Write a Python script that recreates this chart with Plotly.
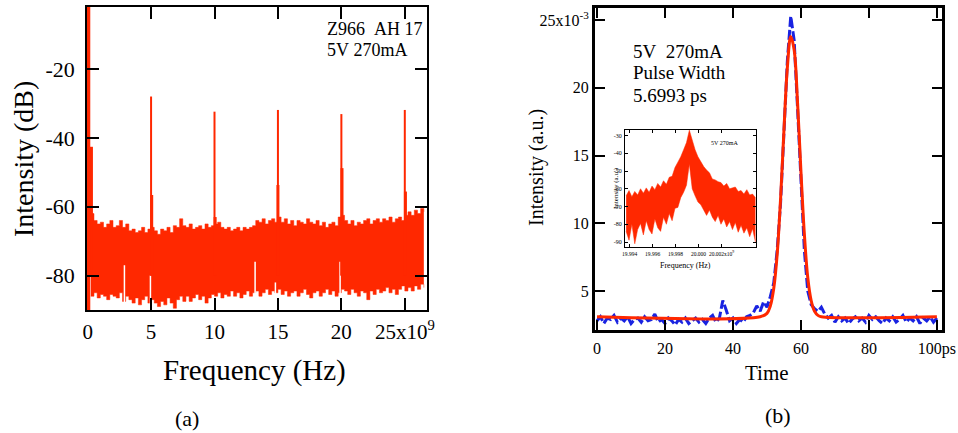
import numpy as np
import plotly.graph_objects as go

# ---------------- Panel (a): RF spectrum ----------------
freq_step_ghz = 0.25
noise_freq = np.round(np.arange(1, 107) * freq_step_ghz, 2)  # GHz sample grid
noise_upper = [
    -62, -64, -65, -64.5, -66, -65, -64, -66, -65.5, -64,
    -66, -65, -67, -66.5, -67.5, -67, -66, -67.5, -66.5, -66,
    -67, -68, -66.5, -67, -66, -67.5, -65.5, -66, -63.5, -65.5,
    -66, -65, -66.5, -66, -65.5, -66.5, -65, -66, -65.5, -65,
    -64.5, -66, -66.5, -66, -67, -66.5, -66, -67, -66, -66.5,
    -66, -65.5, -64, -64.5, -63.5, -65, -64, -63.5, -64.5, -63,
    -64.5, -63.5, -65, -64, -65.5, -64, -64.5, -65, -63.5, -64.5,
    -65, -64, -65.5, -64.5, -66, -65, -64.5, -65.5, -63, -62.5,
    -64, -65, -64, -65.5, -64.5, -65, -64, -63.5, -65, -64,
    -63.5, -64.5, -63.5, -64, -63, -64.5, -63.5, -63, -64, -62.5,
    -61.5, -62.5, -61, -62, -60.5, -61.5]
noise_lower = [
    -86, -85, -86.5, -85.5, -86, -87, -85.5, -86, -86.5, -85,
    -87.5, -86, -87, -88, -86.5, -88.5, -87, -86, -88, -87,
    -88, -89, -87.5, -88.5, -86.5, -88, -89.5, -87, -86, -87.5,
    -86, -87.5, -86.5, -85.5, -87, -86, -88, -86.5, -85.5, -86,
    -85, -86.5, -85.5, -86, -84.5, -86, -85, -86.5, -85.5, -84.5,
    -86, -85, -84.5, -86, -85, -84, -85.5, -84.5, -85, -84,
    -85.5, -84.5, -86, -85, -84.5, -86, -85, -84, -85.5, -86.5,
    -85, -84.5, -86, -85, -84, -85.5, -84.5, -86, -85, -84,
    -84.5, -85.5, -84, -85, -86, -84.5, -85, -87, -84.5, -85.5,
    -84, -85, -84.5, -83.5, -85, -84, -85.5, -84, -83, -84.5,
    -83.5, -84.5, -83, -84, -82.5, -83.5]

spike_freq = [5.0, 10.0, 15.0, 20.0, 25.0]
spike_peak = [-28.0, -32.4, -31.9, -33.1, -31.9]
shoulder_freq = [0.3, 5.05, 10.05, 15.0, 20.05, 25.05]
shoulder_peak = [-42.6, -56.6, -63.0, -53.7, -48.8, -55.6]
dc_freq = [0.07]
dc_peak = [-2.0]
gap_freq = [2.9, 4.95, 13.2, 14.8, 19.9]
gap_top = [-77, -80, -76, -82, -76]

a_xticks = [0, 5, 10, 15, 20, 25]
a_xticktext = ["0", "5", "10", "15", "20", "25x10<sup>9</sup>"]
a_yticks = [-20, -40, -60, -80]
a_yticktext = ["-20", "-40", "-60", "-80"]

# ---------------- Panel (b): autocorrelation pulse ----------------
time_ps = list(range(0, 101))
meas = [
    2.8, 3.1, 2.6, 3.0, 2.9, 3.2, 2.7, 3.0, 2.8, 3.1,
    2.6, 2.9, 3.0, 2.7, 3.1, 2.8, 2.9, 3.3, 2.7, 2.9,
    2.6, 3.0, 2.8, 2.5, 2.9, 2.7, 3.0, 2.6, 2.8, 3.0,
    2.7, 2.9, 2.6, 3.0, 3.2, 2.7, 3.0, 4.3, 3.6, 2.8,
    3.0, 2.6, 2.9, 2.7, 3.1, 3.2, 3.4, 3.9, 3.5, 4.2,
    3.8, 4.6, 5.6, 8.0, 11.5, 16.5, 22.0, 25.3, 23.5, 18.5,
    13.0, 8.0, 5.0, 4.0, 3.7, 3.5, 3.8, 3.3, 3.0, 3.2,
    2.7, 3.1, 2.8, 3.0, 2.6, 2.9, 3.1, 2.8, 3.0, 2.7,
    3.2, 2.9, 3.1, 2.8, 2.6, 3.0, 2.8, 3.1, 2.7, 2.9,
    3.2, 2.7, 3.0, 2.8, 3.1, 2.6, 3.0, 2.8, 3.1, 2.7, 3.0]
fit_t = [0, 48, 50, 51, 52, 53, 54, 55, 56, 57, 58, 59, 60, 61, 62, 63, 64, 65, 66, 100]
fit_v = [3.1, 3.1, 3.35, 3.9, 5.2, 7.7, 11.8, 16.9, 21.5, 23.8, 22.8, 18.9, 13.8, 9.2,
         6.0, 4.3, 3.5, 3.2, 3.1, 3.1]

b_xticks = [0, 20, 40, 60, 80, 100]
b_xticktext = ["0", "20", "40", "60", "80", "100ps"]
b_yticks = [5, 10, 15, 20, 25]
b_yticktext = ["5", "10", "15", "20", "25x10<sup>-3</sup>"]

# ---------------- Inset: optical spectrum ----------------
inset_step = 0.00025
inset_freq = np.round(19.9937 + np.arange(46) * inset_step, 6)
inset_upper = [
    -64, -61, -64.5, -61.5, -63.5, -60, -62.5, -59.5, -62, -58.5,
    -60.5, -57, -59, -55.5, -57.5, -53.5, -53, -48, -45, -42,
    -38, -34, -27, -33, -38, -42, -45, -47.5, -49.5, -51,
    -54.5, -55, -56, -56.5, -58.5, -57, -60, -59.5, -59, -61.5,
    -61, -63, -60.5, -63.5, -63, -65]
inset_lower = [
    -84, -89, -80, -91, -83, -79.5, -86, -78, -83, -85.5,
    -77, -82, -84, -76, -80, -74, -78, -71, -70.5, -65,
    -62, -58, -46, -60, -64, -67.5, -69, -72, -75, -72,
    -76, -78.5, -75, -80, -77, -81.5, -78.5, -83, -79, -84.5,
    -80.5, -85, -82, -87, -82.5, -90]
i_xticks = [19.994, 19.996, 19.998, 20.000, 20.002]
i_xticktext = ["19.994", "19.996", "19.998", "20.000", "20.002x10<sup>9</sup>"]
i_yticks = [-30, -40, -50, -60, -70, -80, -90]
i_yticktext = ["-30", "-40", "-50", "-60", "-70", "-80", "-90"]

RED = "rgb(255,40,0)"
BLUE = "rgb(25,35,225)"
SERIF = "Liberation Serif"
W, H = 958, 433


def dx(p):
    return p / W


def dy(p):
    return 1 - p / H


def segs(xs, tops, base):
    sx, sy = [], []
    for f, p in zip(xs, tops):
        sx += [f, f, None]
        sy += [base, p, None]
    return sx, sy


fig = go.Figure()

# panel (a)
fig.add_trace(go.Scatter(x=noise_freq, y=noise_lower, mode="lines", line=dict(color=RED, width=0.5, shape="hv"),
                         xaxis="x", yaxis="y", showlegend=False, hoverinfo="skip"))
fig.add_trace(go.Scatter(x=noise_freq, y=noise_upper, mode="lines", fill="tonexty", fillcolor=RED,
                         line=dict(color=RED, width=0.5, shape="hv"),
                         xaxis="x", yaxis="y", showlegend=False, hoverinfo="skip"))
gx, gy = segs(gap_freq, gap_top, -90)
fig.add_trace(go.Scatter(x=gx, y=gy, mode="lines", line=dict(color="white", width=1.5),
                         xaxis="x", yaxis="y", showlegend=False, hoverinfo="skip"))
sx, sy = segs(spike_freq, spike_peak, -80)
fig.add_trace(go.Scatter(x=sx, y=sy, mode="lines", line=dict(color=RED, width=2),
                         xaxis="x", yaxis="y", showlegend=False, hoverinfo="skip"))
hx, hy = segs(shoulder_freq, shoulder_peak, -80)
fig.add_trace(go.Scatter(x=hx, y=hy, mode="lines", line=dict(color=RED, width=3),
                         xaxis="x", yaxis="y", showlegend=False, hoverinfo="skip"))
cx, cy = segs(dc_freq, dc_peak, -90)
fig.add_trace(go.Scatter(x=cx, y=cy, mode="lines", line=dict(color=RED, width=3.5),
                         xaxis="x", yaxis="y", showlegend=False, hoverinfo="skip"))

# panel (b)
fig.add_trace(go.Scatter(x=time_ps, y=meas, mode="lines", line=dict(color=BLUE, width=3, dash="10px,3px"),
                         xaxis="x2", yaxis="y2", showlegend=False, hoverinfo="skip"))
fig.add_trace(go.Scatter(x=fit_t, y=fit_v, mode="lines", line=dict(color=RED, width=3, shape="spline"),
                         xaxis="x2", yaxis="y2", showlegend=False, hoverinfo="skip"))

# inset
fig.add_trace(go.Scatter(x=inset_freq, y=inset_lower, mode="lines", line=dict(color=RED, width=0.5),
                         xaxis="x3", yaxis="y3", showlegend=False, hoverinfo="skip"))
fig.add_trace(go.Scatter(x=inset_freq, y=inset_upper, mode="lines", fill="tonexty", fillcolor=RED,
                         line=dict(color=RED, width=0.5),
                         xaxis="x3", yaxis="y3", showlegend=False, hoverinfo="skip"))


def ax(domain, rng, tv, tt, lw, tl, tw, fs, anchor, standoff):
    return dict(domain=domain, range=rng, tickmode="array", tickvals=tv, ticktext=tt,
                ticks="inside", ticklen=tl, tickwidth=tw, tickcolor="black", tickangle=0,
                showline=True, linecolor="black", linewidth=lw, mirror="allticks",
                showgrid=False, zeroline=False, anchor=anchor, automargin=False,
                tickfont=dict(family=SERIF, size=fs, color="black"),
                ticklabelstandoff=standoff)


fig.update_layout(
    width=W, height=H, margin=dict(l=0, r=0, t=0, b=0, autoexpand=False),
    paper_bgcolor="white", plot_bgcolor="white",
    xaxis=ax([dx(87), dx(427)], [-0.05, 26.75], a_xticks, a_xticktext, 1.5, 12, 2, 21, "y", 2),
    yaxis=ax([dy(310), dy(7)], [-90, -2], a_yticks, a_yticktext, 1.5, 12, 2, 22, "x", 6),
    xaxis2=ax([dx(595), dx(942)], [-0.6, 101.5], b_xticks, b_xticktext, 3, 10, 2, 16, "y2", 2),
    yaxis2=ax([dy(330), dy(8)], [2.12, 25.9], b_yticks, b_yticktext, 3, 10, 2, 16, "x2", 0),
    xaxis3=ax([dx(625), dx(756)], [19.9936, 20.005], i_xticks, i_xticktext, 1, 3, 1, 5.5, "y3", 1),
    yaxis3=ax([dy(247), dy(130)], [-92.8, -26.9], i_yticks, i_yticktext, 1, 3, 1, 6, "x3", 1),
)

ann = []


def text(t, x, y, size, rot=0, xanchor="center", yanchor="middle"):
    ann.append(dict(text=t, x=dx(x), y=dy(y), xref="paper", yref="paper", showarrow=False,
                    xanchor=xanchor, yanchor=yanchor, textangle=rot,
                    align=xanchor if xanchor != "center" else "center",
                    font=dict(family=SERIF, size=size, color="black")))


text("Intensity (dB)", 23, 159, 28, rot=-90)
text("Frequency (Hz)", 254, 370, 29)
text("(a)", 187, 418, 22)
text("Z966&#160;&#160;AH&#160;17", 325, 29, 18, xanchor="left")
text("5V&#160;270mA", 325, 50, 18, xanchor="left")
text("Intensity (a.u.)", 536, 168, 20, rot=-90)
text("Time", 767, 373, 21)
text("(b)", 778, 415, 22)
text("5V&#160;&#160;270mA", 631, 52, 19, xanchor="left")
text("Pulse Width", 631, 73, 19, xanchor="left")
text("5.6993 ps", 631, 96, 19, xanchor="left")
text("Intensity (a.u.)", 616, 188, 7, rot=-90)
text("Frequency (Hz)", 685, 265, 8)
text("5V 270mA", 740, 143, 6, xanchor="right")
fig.update_layout(annotations=ann)

fig.write_html("out.html", config={"displayModeBar": False},
               post_script="document.body.style.margin='0';document.body.style.padding='0';")
